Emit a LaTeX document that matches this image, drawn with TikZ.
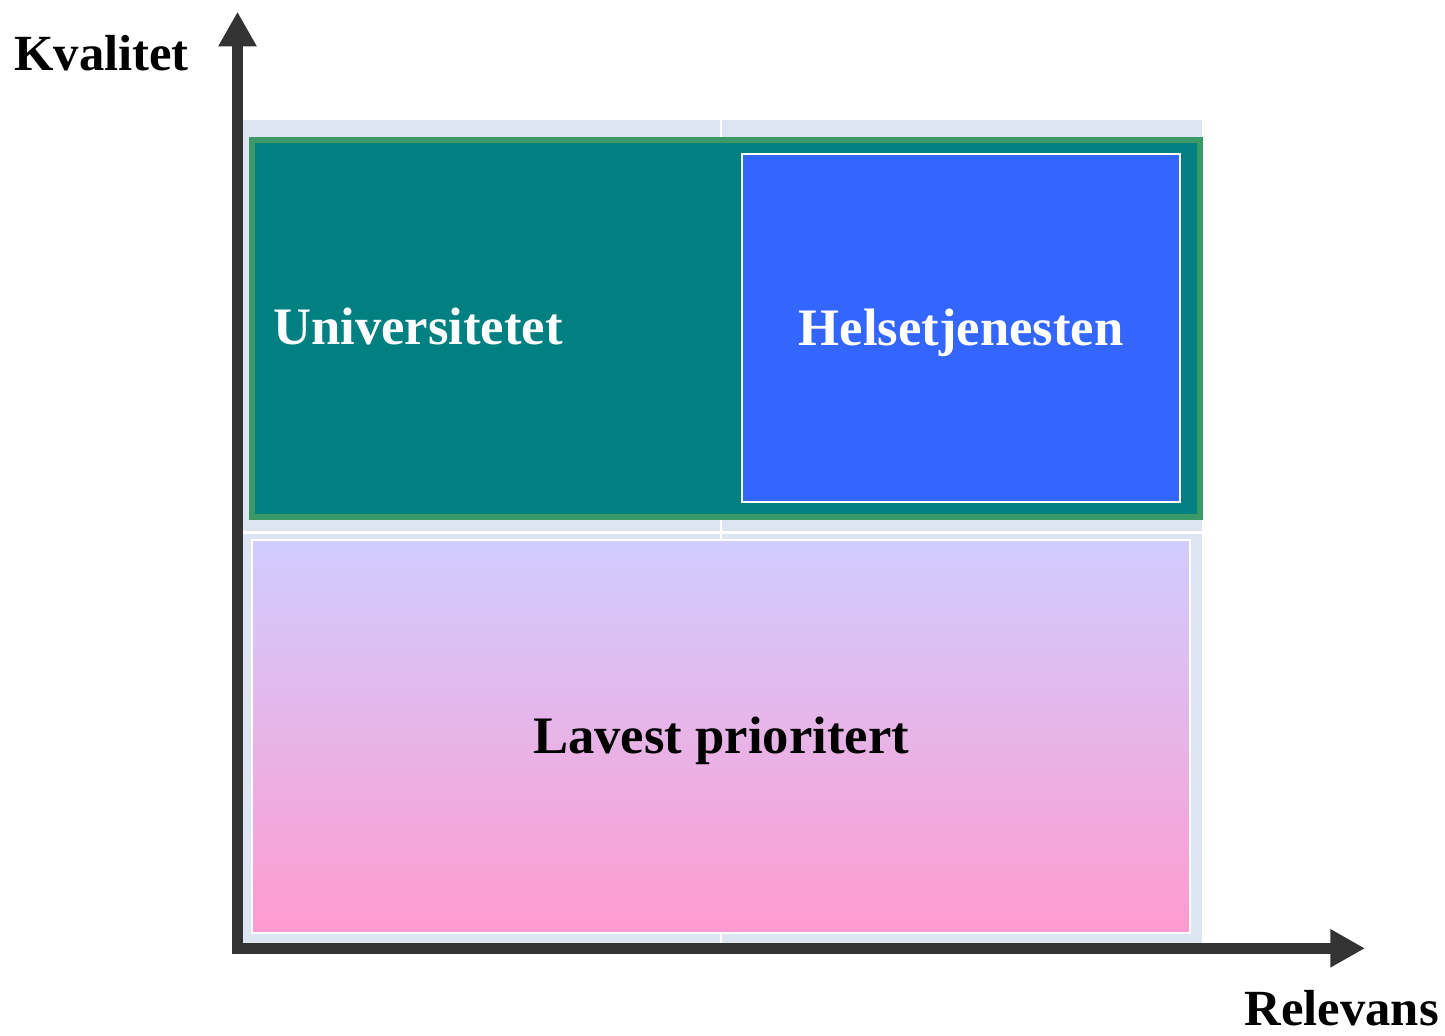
\documentclass[tikz,border=0pt]{standalone}
\usepackage{fontspec}
\setmainfont{Liberation Serif}
\usetikzlibrary{arrows.meta}
\definecolor{plotbg}{HTML}{DDE5F3}
\definecolor{axisgray}{HTML}{333333}
\definecolor{tealbox}{HTML}{008080}
\definecolor{greenrim}{HTML}{3A9966}
\definecolor{bluebox}{HTML}{3366FF}
\definecolor{lavtop}{HTML}{D0CCFF}
\definecolor{pinkbot}{HTML}{FF9BD0}
\tikzset{
	boxlabel/.style={font=\fontsize{39.5}{46}\selectfont\bfseries, inner sep=0pt},
	axislabel/.style={font=\fontsize{38}{46}\selectfont\bfseries, inner sep=0pt},
	axisline/.style={axisgray, line width=8.7pt, line join=miter,
		{Triangle[length=26pt,width=27pt]}-{Triangle[length=26pt,width=27pt]}},
	gridline/.style={white, line width=2pt},
}
\begin{document}
\begin{tikzpicture}[x=0.75pt, y=-0.75pt]
\useasboundingbox (0,0) rectangle (1445,1035);
% plot area and grid
\fill [plotbg] (237.5,120) rectangle (1201.7,948);
\draw [gridline] (721,120) -- (721,948)
		(237.5,532.5) -- (1201.7,532.5);
% regions
\draw [greenrim, fill=tealbox, line width=4.5pt] (252,139.5) rectangle (1199.7,517);
\draw [white, fill=bluebox, line width=1.5pt] (741.7,154.3) rectangle (1180.3,501.7);
\shade [top color=lavtop, bottom color=pinkbot, draw=white, line width=1.5pt] (252,540) rectangle (1190,932.5);
\node [boxlabel, white, anchor=base west] (uni) at (273,344.5) {Universitetet};
\node [boxlabel, white, anchor=base] (helse) at (961,345) {Helsetjenesten};
\node [boxlabel, anchor=base] (lavest) at (721,753.5) {Lavest prioritert};
% axes
\coordinate (origin) at (237.5,948.3);
\coordinate (ytip) at (237.5,11.7);
\coordinate (xtip) at (1365,948.3);
\draw [axisline] (ytip) -- (origin) -- (xtip);
\node [axislabel, anchor=base west] (kval) at (14,70) {Kvalitet};
\node [axislabel, anchor=base east] (rel) at (1439,1025.5) {Relevans};
\end{tikzpicture}
\end{document}
